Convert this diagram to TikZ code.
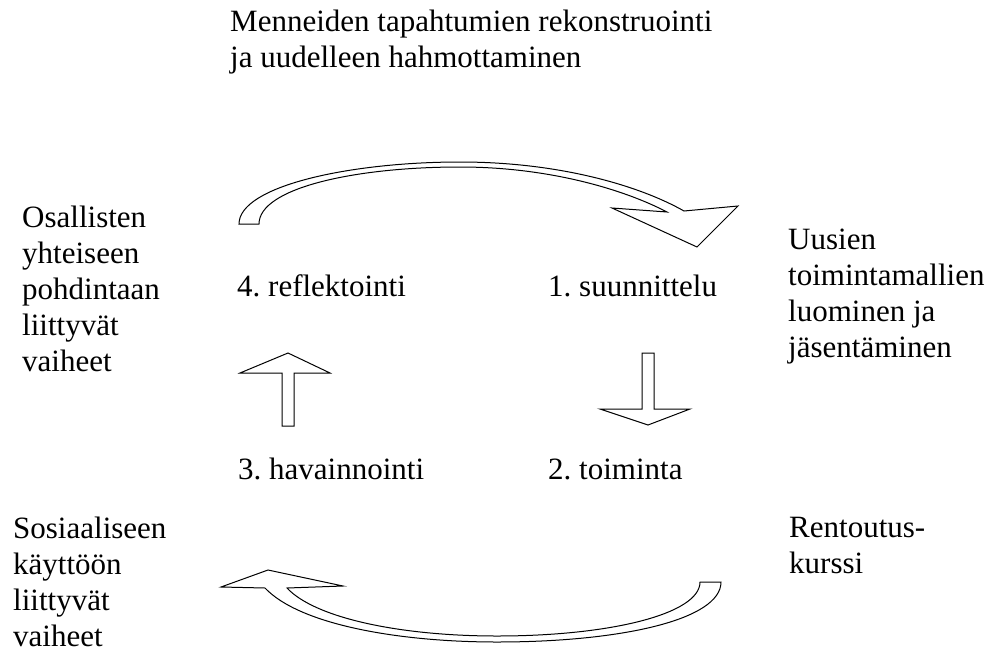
\documentclass[tikz,border=0pt]{standalone}
\usepackage{fontspec}
\setmainfont{Liberation Serif}
\tikzset{
  txt/.style={anchor=base west, inner sep=0pt, align=left, font=\fontsize{31}{36}\selectfont\frenchspacing},
  blockarrow/.style={draw, fill=white, line width=1pt, line join=miter}
}
\begin{document}
\begin{tikzpicture}[x=1pt, y=-1pt]
    \useasboundingbox (0,0) rectangle (1000,653);

    % Texts (anchored at the baseline of the last line)
    \node[txt] (title) at (230,67) {Menneiden tapahtumien rekonstruointi\\ja uudelleen hahmottaminen};
    \node[txt] (pohdinta) at (22,371) {Osallisten\\yhteiseen\\pohdintaan\\liittyvät\\vaiheet};
    \node[txt] (mallit) at (788,357) {Uusien\\toimintamallien\\luominen ja\\jäsentäminen};
    \node[txt] (sosiaalinen) at (13,646) {Sosiaaliseen\\käyttöön\\liittyvät\\vaiheet};
    \node[txt] (kurssi) at (789,573) {Rentoutus-\\kurssi};

    % Cycle steps
    \node[txt] (s4) at (237,296) {4. reflektointi};
    \node[txt] (s1) at (548,296) {1. suunnittelu};
    \node[txt] (s3) at (238,479) {3. havainnointi};
    \node[txt] (s2) at (548,479) {2. toiminta};

    % Curved arrow (top)
    \draw[blockarrow] (239,224) .. controls (239,186) and (350,162) .. (460,162)
        .. controls (560,162) and (640,186) .. (684,211)
        -- (738,206) -- (697,247) -- (612,208) -- (667,212)
        .. controls (625,190) and (550,167) .. (460,167)
        .. controls (355,167) and (259,188) .. (259,224) -- cycle;

    % Curved arrow (bottom)
    \draw[blockarrow] (721,582) .. controls (721,620) and (620,642) .. (497,642)
        .. controls (400,642) and (300,625) .. (265,588)
        -- (221,587) -- (268,570) -- (343,586) -- (287,588)
        .. controls (315,618) and (400,636) .. (497,636)
        .. controls (610,636) and (700,614) .. (700,582) -- cycle;

    % Straight arrows
    \draw[blockarrow] (282,426) -- (282,373) -- (240,373) -- (288,353) -- (330,373)
        -- (294,373) -- (294,426) -- cycle;
    \draw[blockarrow] (642,353) -- (642,409) -- (600,409) -- (648,425) -- (690,409)
        -- (654,409) -- (654,353) -- cycle;
\end{tikzpicture}
\end{document}
